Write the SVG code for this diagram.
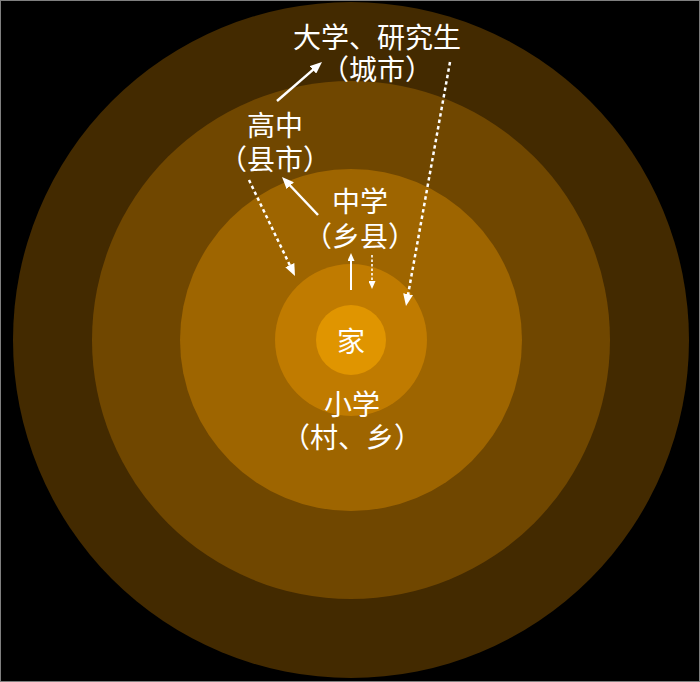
<svg xmlns="http://www.w3.org/2000/svg" width="700" height="682" viewBox="0 0 700 682">
  <style>
    .lbl { font-family: "Noto Sans CJK SC", "Noto Sans", sans-serif; font-size: 28px; fill: #ffffff; text-anchor: middle; dominant-baseline: central; }
    .arrow { stroke: #ffffff; fill: none; stroke-width: 2.5; }
    .dash { stroke-dasharray: 3.5 3; }
    .small { stroke-width: 2; }
    .smalldash { stroke-width: 1.6; stroke-dasharray: 2.5 2; }
  </style>
  <defs>
    <marker id="ah" markerUnits="userSpaceOnUse" markerWidth="12" markerHeight="10" refX="3" refY="5" orient="auto">
      <path d="M0,0 L12,5 L0,10 z" fill="#ffffff"/>
    </marker>
    <marker id="ahs" markerUnits="userSpaceOnUse" markerWidth="8" markerHeight="7" refX="2" refY="3.5" orient="auto">
      <path d="M0,0 L8,3.5 L0,7 z" fill="#ffffff"/>
    </marker>
  </defs>
  <rect x="0.5" y="0.5" width="699" height="681" fill="#000000" stroke="#7f7f7f" stroke-width="1"/>
  <g id="ring-city">
    <circle cx="351" cy="340" r="338" fill="#432a00"/>
  </g>
  <g id="ring-county-city">
    <circle cx="351" cy="340" r="259" fill="#704700"/>
  </g>
  <g id="ring-township">
    <circle cx="351" cy="340" r="171" fill="#9e6500"/>
  </g>
  <g id="ring-village">
    <circle cx="351" cy="340" r="76" fill="#c07b00"/>
  </g>
  <g id="home">
    <circle cx="351" cy="340" r="35" fill="#e09500"/>
    <text class="lbl" x="351" y="340">家</text>
  </g>
  <g id="label-university">
    <text class="lbl" x="377" y="36">大学、研究生</text>
    <text class="lbl" x="377" y="68">（城市）</text>
  </g>
  <g id="label-highschool">
    <text class="lbl" x="275" y="124">高中</text>
    <text class="lbl" x="275" y="158">（县市）</text>
  </g>
  <g id="label-middleschool">
    <text class="lbl" x="360" y="200">中学</text>
    <text class="lbl" x="360" y="235">（乡县）</text>
  </g>
  <g id="label-primary">
    <text class="lbl" x="352" y="403">小学</text>
    <text class="lbl" x="352" y="436">（村、乡）</text>
  </g>
  <g id="connectors">
    <line class="arrow" x1="277" y1="101" x2="315.2" y2="67.9" marker-end="url(#ah)"/>
    <line class="arrow dash" x1="450" y1="62" x2="407.6" y2="297.1" marker-end="url(#ah)"/>
    <line class="arrow" x1="318" y1="215" x2="288.2" y2="183.5" marker-end="url(#ah)"/>
    <line class="arrow dash" x1="249" y1="180" x2="291.1" y2="267.9" marker-end="url(#ah)"/>
    <line class="arrow small" x1="351" y1="290" x2="351" y2="259" marker-end="url(#ahs)"/>
    <line class="arrow smalldash" x1="372" y1="255" x2="372" y2="283" marker-end="url(#ahs)"/>
  </g>
</svg>
